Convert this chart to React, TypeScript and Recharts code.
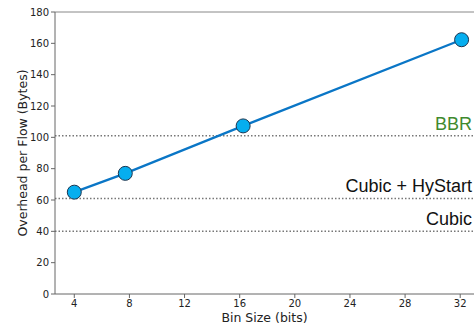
import React from "react";
import { LineChart, Line, XAxis, YAxis, ReferenceLine } from "recharts";

const binSizes = [4, 7.7, 16.25, 32.1];
const overhead = [65, 77, 107.3, 162.3];
const xTicks = [4, 8, 12, 16, 20, 24, 28, 32];
const yTicks = [0, 20, 40, 60, 80, 100, 120, 140, 160, 180];
const refNames = ["BBR", "Cubic + HyStart", "Cubic"];
const refValues = [101, 61, 40];
const refColors = ["#3f8a2e", "#111111", "#111111"];

const data = binSizes.map((b, i) => ({ bin: b, overhead: overhead[i] }));

const tickStyle = { fontFamily: "DejaVu Sans", fontSize: 10, fill: "#222" };

const RefLabel = (props: any) => {
  const { viewBox, text, color } = props;
  const x = viewBox.x + viewBox.width - 2;
  const y = viewBox.y - 6;
  return (
    <text
      x={x}
      y={y}
      textAnchor="end"
      fontFamily="Liberation Sans, Arial, sans-serif"
      fontSize={18}
      fill={color}
    >
      {text}
    </text>
  );
};

const YLabel = (props: any) => {
  const { viewBox } = props;
  const cx = 22;
  const cy = viewBox.y + viewBox.height / 2;
  return (
    <text
      x={cx}
      y={cy}
      transform={`rotate(-90, ${cx}, ${cy})`}
      textAnchor="middle"
      dominantBaseline="central"
      fontFamily="DejaVu Sans"
      fontSize={12.5}
      fill="#222"
    >
      Overhead per Flow (Bytes)
    </text>
  );
};

const XLabel = (props: any) => {
  const { viewBox } = props;
  const cx = viewBox.x + viewBox.width / 2;
  return (
    <text
      x={cx}
      y={317}
      textAnchor="middle"
      dominantBaseline="central"
      fontFamily="DejaVu Sans"
      fontSize={12.5}
      fill="#222"
    >
      Bin Size (bits)
    </text>
  );
};

export default function App() {
  return (
    <div style={{ position: "absolute", left: 0, top: 0 }}>
      <LineChart
        width={474}
        height={328}
        data={data}
        margin={{ top: 12, right: 0, left: 0, bottom: 0 }}
      >
        <XAxis
          dataKey="bin"
          type="number"
          domain={[2.6, 33.0]}
          ticks={xTicks}
          allowDataOverflow
          height={34}
          tickSize={4}
          tickMargin={2}
          stroke="#666"
          tick={tickStyle}
          label={<XLabel />}
        />
        <YAxis
          type="number"
          domain={[0, 180]}
          ticks={yTicks}
          width={55}
          tickSize={4}
          tickMargin={2}
          stroke="#666"
          tick={tickStyle}
          label={<YLabel />}
        />
        <ReferenceLine y={180} stroke="#888" strokeWidth={1} />
        {refValues.map((v, i) => (
          <ReferenceLine
            key={refNames[i]}
            y={v}
            stroke="#777"
            strokeWidth={1.5}
            strokeDasharray="1.5 2"
            label={<RefLabel text={refNames[i]} color={refColors[i]} />}
          />
        ))}
        <Line
          type="linear"
          dataKey="overhead"
          stroke="#0a76c6"
          strokeWidth={2.3}
          isAnimationActive={false}
          dot={{ r: 7, fill: "#06aeef", stroke: "#1b3550", strokeWidth: 1, fillOpacity: 1 }}
        />
      </LineChart>
    </div>
  );
}
